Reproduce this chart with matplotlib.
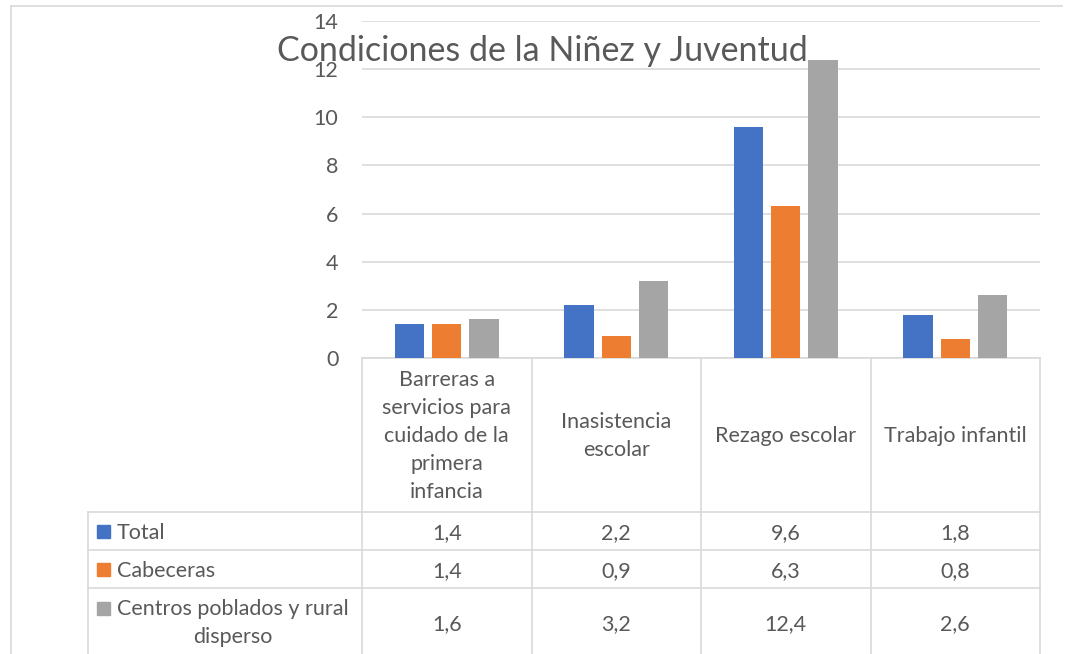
import numpy as np
import matplotlib.pyplot as plt
from matplotlib.transforms import blended_transform_factory
from matplotlib.lines import Line2D
from matplotlib.patches import Rectangle

plt.rcParams['font.family'] = ['Lato', 'DejaVu Sans']

# Data
categories = ['Barreras a\nservicios para\ncuidado de la\nprimera\ninfancia',
              'Inasistencia\nescolar', 'Rezago escolar', 'Trabajo infantil']
series_names = ['Total', 'Cabeceras', 'Centros poblados y rural\ndisperso']
total = [1.4, 2.2, 9.6, 1.8]
cabeceras = [1.4, 0.9, 6.3, 0.8]
centros = [1.6, 3.2, 12.4, 2.6]
yticks = [0, 2, 4, 6, 8, 10, 12, 14]

colors = ['#4472C4', '#ED7D31', '#A5A5A5']
text_col = '#595959'
line_col = '#D9D9D9'
fs = 15.5

W, H = 1065, 654
fig = plt.figure(figsize=(W / 100, H / 100), dpi=100)

def fx(px):
    return px / W

def fy(py):
    return 1 - py / H

ax = fig.add_axes([fx(362), fy(358), fx(1040) - fx(362), fy(21) - fy(358)])

x = np.arange(len(categories))
offset = 0.221
width = 0.174
for i, vals in enumerate([total, cabeceras, centros]):
    ax.bar(x + (i - 1) * offset, vals, width, color=colors[i], zorder=3)

ax.set_xlim(-0.5, len(categories) - 0.5)
ax.set_ylim(0, 14)
ax.set_yticks(yticks)
ax.set_yticklabels([str(t) for t in yticks], fontsize=fs, color=text_col)
ax.tick_params(axis='y', length=0, pad=17)
ax.set_xticks([])
ax.grid(axis='y', color=line_col, linewidth=1.2, zorder=0)
for s in ax.spines.values():
    s.set_visible(False)

# Title
fig.text(fx(542), fy(51), 'Condiciones de la Niñez y Juventud', fontsize=24.5,
         color=text_col, ha='center', va='center', zorder=5)

# Outer chart border (top and left)
fig.add_artist(Line2D([fx(11), fx(11)], [fy(6), 0], color=line_col, lw=1.2))
fig.add_artist(Line2D([fx(11), fx(1062)], [fy(6), fy(6)], color=line_col, lw=1.2))

# Data table
tr = blended_transform_factory(ax.transData, fig.transFigure)
edges = np.arange(len(categories) + 1) - 0.5
for e in edges:
    ax.add_artist(Line2D([e, e], [fy(358), 0], transform=tr, color=line_col,
                         lw=1.2, clip_on=False))
ax.add_artist(Line2D([-0.5, 3.5], [fy(358), fy(358)], transform=tr,
                     color=line_col, lw=1.2, clip_on=False))
row_lines = [512, 550, 588]
for r in row_lines:
    fig.add_artist(Line2D([fx(88), fx(1040)], [fy(r), fy(r)], color=line_col, lw=1.2))
fig.add_artist(Line2D([fx(88), fx(88)], [fy(512), 0], color=line_col, lw=1.2))

for i, cat in enumerate(categories):
    ax.text(x[i], fy(436), cat, transform=tr, ha='center', va='center',
            fontsize=fs, color=text_col, linespacing=1.5, clip_on=False)

row_centers = [531, 569, 622]
for j, (name, vals) in enumerate(zip(series_names, [total, cabeceras, centros])):
    yc = fy(row_centers[j])
    sq_y = yc if '\n' not in name else fy(608)
    fig.add_artist(Rectangle((fx(97), sq_y - 6.5 / H), 13 / W, 13 / H,
                             color=colors[j], transform=fig.transFigure))
    if '\n' in name:
        fig.text(fx(117), fy(623), name, ha='left', va='center', multialignment='center',
                 fontsize=fs, color=text_col, linespacing=1.45)
    else:
        fig.text(fx(117), yc, name, ha='left', va='center_baseline', fontsize=fs,
                 color=text_col)
    for i, v in enumerate(vals):
        ax.text(x[i], yc, f'{v:.1f}'.replace('.', ','), transform=tr,
                ha='center', va='center_baseline', fontsize=fs, color=text_col,
                clip_on=False)

fig.savefig('out.png', dpi=100)
